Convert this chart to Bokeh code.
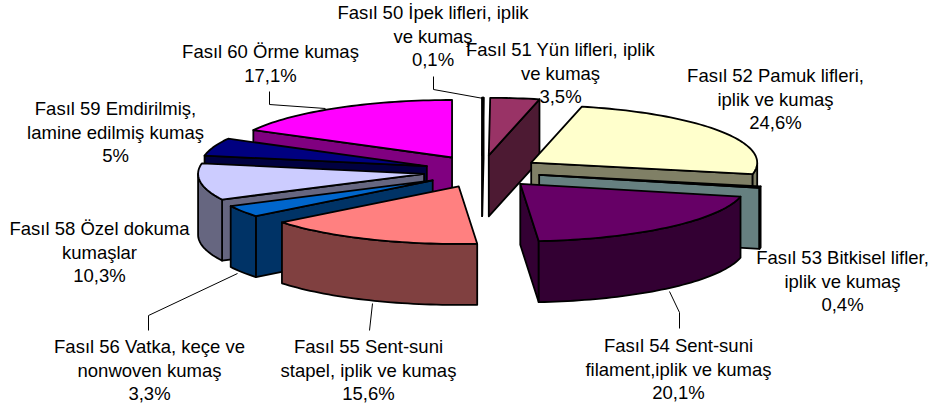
import math
from bokeh.plotting import figure
from bokeh.models import Range1d, ColumnDataSource
from bokeh.core.properties import value
from bokeh.embed import file_html
from bokeh.resources import INLINE

# ---- data ----
chapters = ["Fasıl 50", "Fasıl 51", "Fasıl 52", "Fasıl 53", "Fasıl 54",
            "Fasıl 55", "Fasıl 56", "Fasıl 58", "Fasıl 59", "Fasıl 60"]
shares = [0.1, 3.5, 24.6, 0.4, 20.1, 15.6, 3.3, 10.3, 5.0, 17.1]
share_labels = ["0,1%", "3,5%", "24,6%", "0,4%", "20,1%", "15,6%", "3,3%", "10,3%", "5%", "17,1%"]
label_lines = [
    ["Fasıl 50 İpek lifleri, iplik", "ve kumaş"],
    ["Fasıl 51 Yün lifleri, iplik", "ve kumaş"],
    ["Fasıl 52 Pamuk lifleri,", "iplik ve kumaş"],
    ["Fasıl 53 Bitkisel lifler,", "iplik ve kumaş"],
    ["Fasıl 54 Sent-suni", "filament,iplik ve kumaş"],
    ["Fasıl 55 Sent-suni", "stapel, iplik ve kumaş"],
    ["Fasıl 56 Vatka, keçe ve", "nonwoven kumaş"],
    ["Fasıl 58 Özel dokuma", "kumaşlar"],
    ["Fasıl 59 Emdirilmiş,", "lamine edilmiş kumaş"],
    ["Fasıl 60 Örme kumaş"],
]

# ---- styles / layout ----
top_colors = ["#FFFFFF", "#993366", "#FFFFCC", "#CCFFFF", "#660066",
              "#FF8080", "#0066CC", "#CCCCFF", "#000080", "#FF00FF"]
side_colors = ["#808080", "#4D1A33", "#808066", "#668080", "#330033",
               "#804040", "#003366", "#666680", "#000040", "#800080"]
CX, CY = 481.5, 171.0      # pie centre
RX, RY = 226.0, 57.5       # ellipse radii
EX, EY = 58.5, 16.3        # explosion distance
DEPTH = 61.0
OUTLINE = 1.8
draw_order = [9, 8, 7, 6, 5, 0, 1, 2, 3, 4]
label_pos = [(432.5, 12), (560, 49), (775, 75), (842, 257), (678, 345),
             (368, 346), (149, 346), (99, 228), (115, 108), (270, 51)]
line_step = 23.5
leaders = [
    [(433, 76), (433, 89), (483, 98)],
    [(269, 91), (269, 104), (325, 108)],
    [(148, 330), (148, 315), (237, 273)],
    [(369, 330), (372, 303)],
    [(679, 328), (679, 312), (669, 291)],
]


def pt(ax, ay, deg, dz=0.0):
    t = math.radians(deg)
    return ax + RX * math.sin(t), ay - RY * math.cos(t) + dz


def arc(ax, ay, a, b, dz=0.0):
    n = max(2, int(abs(b - a) / 1.5) + 2)
    return [pt(ax, ay, a + (b - a) * i / (n - 1), dz) for i in range(n)]


faces = {"xs": [], "ys": [], "fill": []}


def add_face(points, color):
    faces["xs"].append([q[0] for q in points])
    faces["ys"].append([q[1] for q in points])
    faces["fill"].append(color)


total = sum(shares)
starts = []
acc = 0.0
for s in shares:
    starts.append(acc / total * 360)
    acc += s

for i in draw_order:
    a0 = starts[i]
    a1 = a0 + shares[i] / total * 360
    mid = math.radians((a0 + a1) / 2)
    ax = CX + EX * math.sin(mid)
    ay = CY - EY * math.cos(mid)
    side = side_colors[i]
    # cut at the start of the slice
    if math.sin(math.radians(a0)) <= 0.001:
        p0 = pt(ax, ay, a0)
        add_face([(ax, ay), p0, (p0[0], p0[1] + DEPTH), (ax, ay + DEPTH)], side)
    # cut at the end of the slice
    if math.sin(math.radians(a1)) >= 0:
        p1 = pt(ax, ay, a1)
        add_face([(ax, ay), p1, (p1[0], p1[1] + DEPTH), (ax, ay + DEPTH)], side)
    # visible outer wall
    lo, hi = max(a0, 90), min(a1, 270)
    if hi > lo:
        add_face(arc(ax, ay, lo, hi) + arc(ax, ay, hi, lo, DEPTH), side)
    # top
    add_face([(ax, ay)] + arc(ax, ay, a0, a1), top_colors[i])

p = figure(width=935, height=412, output_backend="svg", toolbar_location=None,
           x_range=Range1d(0, 935), y_range=Range1d(412, 0),
           x_axis_type=None, y_axis_type=None, min_border=0,
           margin=0, background_fill_color="white",
           border_fill_color="white", outline_line_color=None)
p.grid.visible = False

p.patches("xs", "ys", fill_color="fill", line_color="black", line_width=OUTLINE,
          line_join="round", source=ColumnDataSource(faces))
p.multi_line([[q[0] for q in l] for l in leaders], [[q[1] for q in l] for l in leaders],
             line_color="black", line_width=1)

tx, ty, tt = [], [], []
for lines, pct, (x, y) in zip(label_lines, share_labels, label_pos):
    for k, t in enumerate(lines + [pct]):
        tx.append(x)
        ty.append(y + k * line_step)
        tt.append(t)
p.text(tx, ty, text=tt, text_font=value("Liberation Sans"), text_font_size="18.5px",
       text_color="black", text_align="center", text_baseline="middle")

open("out.html", "w").write(file_html(p, INLINE))
